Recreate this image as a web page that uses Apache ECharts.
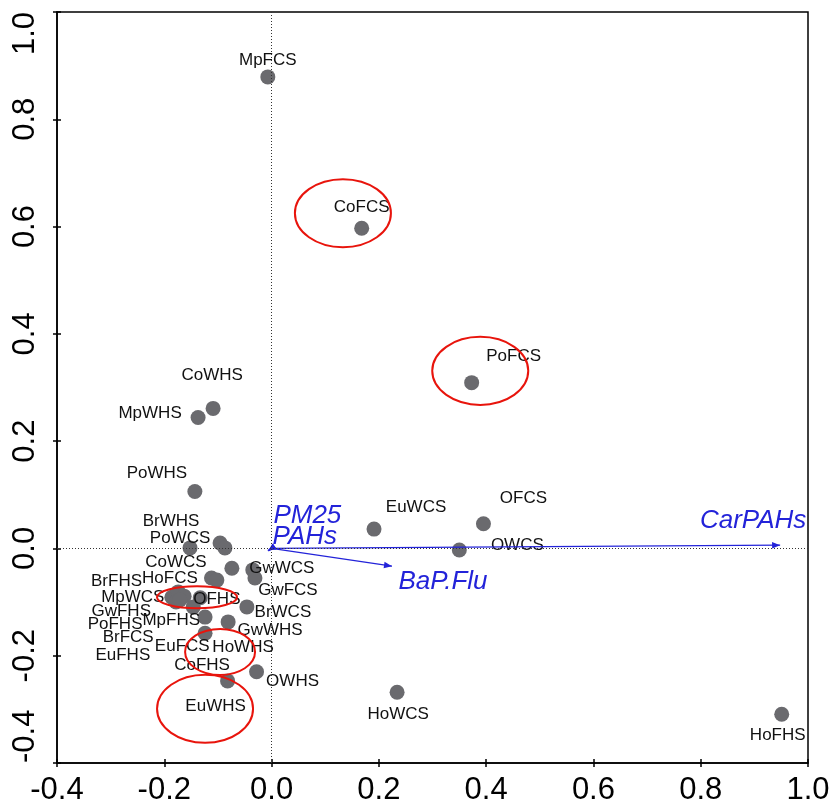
<!DOCTYPE html>
<html><head><meta charset="utf-8">
<script src="https://cdn.jsdelivr.net/npm/echarts@6/dist/echarts.min.js"></script>
<style>html,body{margin:0;padding:0;background:#fff}#c{width:833px;height:811px}</style>
</head><body><div id="c"></div>
<script>
// ---- data ----
const siteNames = ['MpFCS','CoFCS','PoFCS','CoWHS','MpWHS','PoWHS','EuWCS','OFCS','OWCS','HoFHS','HoWCS','OWHS',
  'PoWCS','BrWHS','CoWCS','HoFCS','GwWCS','GwFCS','BrFHS','OFHS','MpWCS','GwFHS','PoFHS','BrFCS','EuFHS',
  'MpFHS','EuFCS','BrWCS','CoFHS','GwWHS','HoWHS','EuWHS'];
const siteX = [-0.007,0.168,0.373,-0.109,-0.137,-0.143,0.191,0.395,0.350,0.951,0.234,-0.028,
  -0.152,-0.096,-0.087,-0.074,-0.035,-0.031,-0.112,-0.102,-0.186,-0.174,-0.178,-0.163,-0.171,
  -0.133,-0.146,-0.046,-0.124,-0.081,-0.124,-0.082];
const siteY = [0.879,0.597,0.309,0.261,0.244,0.106,0.036,0.046,-0.003,-0.309,-0.268,-0.230,
  0.001,0.010,0.001,-0.037,-0.040,-0.055,-0.055,-0.059,-0.091,-0.081,-0.100,-0.089,-0.096,
  -0.092,-0.109,-0.109,-0.128,-0.137,-0.158,-0.247];
const vectorNames = ['PM25','PAHs','BaP.Flu','CarPAHs'];
const vectorX = [-0.006,-0.007,0.2245,0.948];
const vectorY = [-0.005,-0.004,-0.033,0.006];
const ellipseX = [0.133,0.389,-0.139,-0.096,-0.124];
const ellipseY = [0.625,0.331,-0.091,-0.193,-0.299];
const ellipseRX = [0.0895,0.0895,0.0746,0.0652,0.0895];
const ellipseRY = [0.0634,0.0634,0.0205,0.0429,0.0634];
const axisMin = -0.4, axisMax = 1.0, axisStep = 0.2;

// ---- label placement (style, pixels) ----
const siteLabelOffset = {
  MpFCS:[0,-17], CoFCS:[0,-21], PoFCS:[42,-26], CoWHS:[-1,-33], MpWHS:[-48,-4], PoWHS:[-38,-18],
  EuWCS:[42,-22], OFCS:[40,-25], OWCS:[58,-5], HoFHS:[-4,21], HoWCS:[1,22], OWHS:[36,10],
  PoWCS:[-10,-10], BrWHS:[-49,-22], CoWCS:[-49,14], HoFCS:[-62,10], GwWCS:[29,-2], GwFCS:[33,12],
  BrFHS:[-95,3], OFHS:[0,19], MpWCS:[-39,0], GwFHS:[-57,19], PoFHS:[-61,22], BrFCS:[-56,41],
  EuFHS:[-57,55], MpFHS:[-29,23], EuFCS:[-11,39], BrWCS:[36,5], CoFHS:[-3,48], GwWHS:[42,8],
  HoWHS:[38,14], EuWHS:[-12,25]
};
const vectorLabelOffset = {PM25:[39,-35], PAHs:[37,-14], 'BaP.Flu':[51,16], CarPAHs:[-27,-24]};

const FONT = 'Liberation Sans, Arial, sans-serif';
const BLUE = '#2323d9';

const chart = echarts.init(document.getElementById('c'), null, {renderer:'canvas'});

const siteData = siteNames.map((n,i)=>({name:n, value:[siteX[i], siteY[i]]}));
const vectorData = vectorNames.map((n,i)=>({name:n, value:[vectorX[i], vectorY[i]]}));
const ellipseData = ellipseX.map((x,i)=>[x, ellipseY[i], ellipseRX[i], ellipseRY[i]]);

const fmt = v => (Math.abs(v)<1e-9 ? 0 : v).toFixed(1);

function mkX(main){
  return {
    type:'value', min:axisMin, max:axisMax, interval:axisStep, position:'bottom',
    axisLine:{show:main, onZero:false, lineStyle:{color:'#000', width:1.5}},
    axisTick:{show:true, inside:!main, length:4, lineStyle:{color:'#000', width:1.5}},
    axisLabel:{show:main, formatter:fmt, fontSize:31, color:'#000', fontFamily:FONT, margin:12},
    splitLine:{show:false}
  };
}
function mkY(main){
  return {
    type:'value', min:axisMin, max:axisMax, interval:axisStep, position:'left',
    axisLine:{show:main, onZero:false, lineStyle:{color:'#000', width:1.5}},
    axisTick:{show:true, inside:!main, length:4, lineStyle:{color:'#000', width:1.5}},
    axisLabel:{show:main, formatter:fmt, fontSize:31, color:'#000', fontFamily:FONT, margin:16, rotate:90,
      alignMinLabel:'left', alignMaxLabel:'right'},
    splitLine:{show:false}
  };
}

chart.setOption({
  animation:false,
  backgroundColor:'#fff',
  grid:{left:57, right:25, top:12, bottom:48, show:true, borderColor:'#000', borderWidth:1.5, containLabel:false},
  xAxis:[mkX(true), mkX(false)],
  yAxis:[mkY(true), mkY(false)],
  series:[
    {
      type:'scatter', xAxisIndex:0, yAxisIndex:0, z:2,
      symbol:'circle', symbolSize:15,
      itemStyle:{color:'#6a6a6e', opacity:1},
      label:{show:true, position:'inside', formatter:'{b}', fontSize:17, color:'#111', fontFamily:FONT},
      labelLayout:function(params){
        const off = siteLabelOffset[siteNames[params.dataIndex]] || [0,-16];
        return {dx:off[0], dy:off[1], hideOverlap:false};
      },
      data:siteData,
      markLine:{
        silent:true, symbol:'none', animation:false,
        label:{show:false},
        lineStyle:{type:[1,2], color:'#333', width:1},
        data:[{xAxis:0},{yAxis:0}]
      }
    },
    {
      type:'custom', xAxisIndex:0, yAxisIndex:0, z:3, clip:false,
      data:vectorData,
      renderItem:function(params, api){
        const name = vectorNames[params.dataIndex];
        const p0 = api.coord([0,0]);
        const p1 = api.coord([api.value(0), api.value(1)]);
        const dx = p1[0]-p0[0], dy = p1[1]-p0[1];
        const L = Math.sqrt(dx*dx+dy*dy) || 1;
        const ux = dx/L, uy = dy/L;
        const hl = 8, hw = 3.2;
        const bx = p1[0]-ux*hl, by = p1[1]-uy*hl;
        const off = vectorLabelOffset[name] || [0,0];
        return {type:'group', children:[
          {type:'line', shape:{x1:p0[0], y1:p0[1], x2:p1[0], y2:p1[1]}, style:{stroke:BLUE, lineWidth:1.2}},
          {type:'polygon', shape:{points:[[p1[0],p1[1]],[bx-uy*hw, by+ux*hw],[bx+uy*hw, by-ux*hw]]}, style:{fill:BLUE}},
          {type:'text', x:p1[0]+off[0], y:p1[1]+off[1],
            style:{text:name, fill:BLUE, font:'italic 26px '+FONT, align:'center', verticalAlign:'middle'}}
        ]};
      }
    },
    {
      type:'custom', xAxisIndex:0, yAxisIndex:0, z:4, clip:false,
      data:ellipseData,
      renderItem:function(params, api){
        const c = api.coord([api.value(0), api.value(1)]);
        const s = api.size([api.value(2), api.value(3)]);
        return {type:'ellipse', shape:{cx:c[0], cy:c[1], rx:s[0], ry:s[1]},
          style:{fill:'none', stroke:'#e8140c', lineWidth:2}};
      }
    }
  ]
});
</script></body></html>
